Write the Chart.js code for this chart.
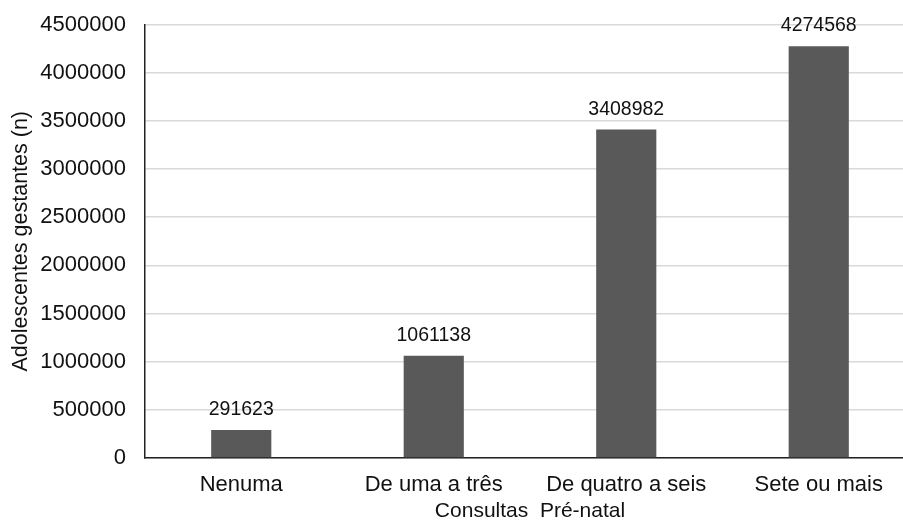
<!DOCTYPE html>
<html>
<head>
<meta charset="utf-8">
<script src="https://cdn.jsdelivr.net/npm/chart.js@4/dist/chart.umd.min.js"></script>
<style>
  html, body { margin: 0; padding: 0; background: #fff; overflow: hidden; }
  #wrap { position: absolute; left: 0; top: 0; width: 915px; height: 524px; }
</style>
</head>
<body>
<div id="wrap"><canvas id="c" width="915" height="524"></canvas></div>
<script>
const categories = ["Nenuma", "De uma a três", "De quatro a seis", "Sete ou mais"];
const gestantes = [291623, 1061138, 3408982, 4274568];
const yTicks = [0, 500000, 1000000, 1500000, 2000000, 2500000, 3000000, 3500000, 4000000, 4500000];

const FONT = "'Liberation Sans', Arial, sans-serif";

// Writes each bar's value just above it
const valueLabels = {
  id: 'valueLabels',
  afterDatasetsDraw(chart) {
    const ctx = chart.ctx;
    const meta = chart.getDatasetMeta(0);
    ctx.save();
    ctx.font = "19.5px " + FONT;
    ctx.fillStyle = '#111';
    ctx.textAlign = 'center';
    ctx.textBaseline = 'alphabetic';
    meta.data.forEach((bar, i) => {
      ctx.fillText(String(chart.data.datasets[0].data[i]), bar.x, bar.y - 15);
    });
    ctx.restore();
  }
};

new Chart(document.getElementById('c'), {
  type: 'bar',
  data: {
    labels: categories,
    datasets: [{
      data: gestantes,
      backgroundColor: '#595959',
      borderWidth: 0,
      categoryPercentage: 1,
      barPercentage: 0.3125
    }]
  },
  options: {
    responsive: false,
    animation: false,
    layout: { padding: { top: 24, left: 0, right: 0, bottom: 0 } },
    plugins: { legend: { display: false }, tooltip: { enabled: false } },
    scales: {
      x: {
        grid: { display: false, drawTicks: false },
        border: { color: '#222', width: 1.5 },
        ticks: { color: '#111', font: { family: FONT, size: 22 }, padding: 14, maxRotation: 0 },
        title: {
          display: true,
          text: 'Consultas  Pré-natal',
          color: '#111',
          font: { family: FONT, size: 21 },
          padding: { top: 0, bottom: 0 }
        },
        afterFit(scale) { scale.height = 66; }
      },
      y: {
        min: 0,
        max: 4500000,
        afterBuildTicks(scale) { scale.ticks = yTicks.map(v => ({ value: v })); },
        grid: { color: '#d9d9d9', lineWidth: 1.5, drawTicks: false },
        border: { color: '#222', width: 1.5 },
        ticks: {
          color: '#111',
          font: { family: FONT, size: 22, lineHeight: 0.5 },
          padding: 19,
          callback: v => String(v)
        },
        title: {
          display: true,
          text: 'Adolescentes gestantes (n)',
          color: '#111',
          font: { family: FONT, size: 21.5 },
          padding: { top: 8, bottom: 0 }
        },
        afterFit(scale) { scale.width = 145; }
      }
    }
  },
  plugins: [valueLabels]
});
</script>
</body>
</html>
